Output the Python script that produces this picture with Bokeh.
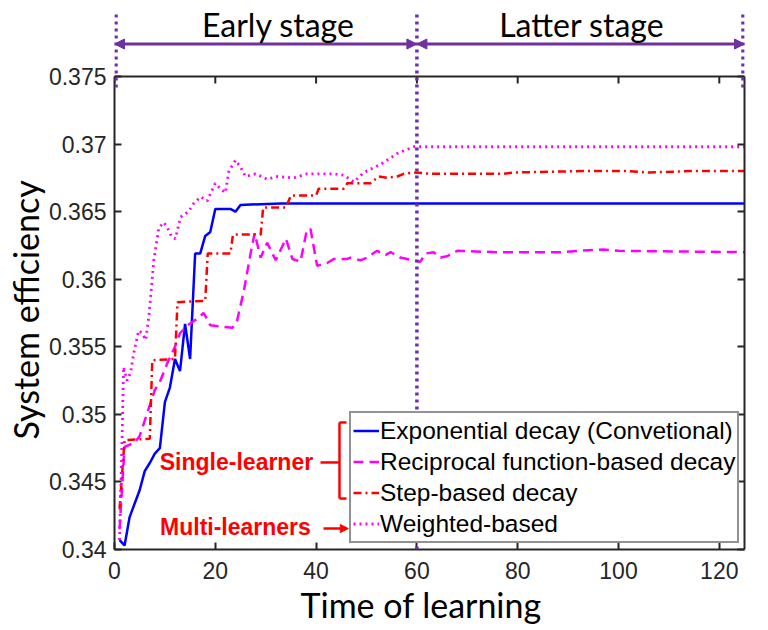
from bokeh.plotting import figure
from bokeh.models import (LinearAxis, FixedTicker, Range1d, Legend, LegendItem, Label,
                          Arrow, NormalHead, Span, Title)
from bokeh.embed import file_html
from bokeh.resources import INLINE

# ---------------- data ----------------
exp_x = [1, 2, 3, 5, 6, 7, 8, 9, 10, 11, 12, 13, 14, 15, 16, 17, 18, 19, 20, 23, 24, 25, 33, 125]
exp_y = [0.3407, 0.3403, 0.3424, 0.3444, 0.3458, 0.3464, 0.3471, 0.3475, 0.3509, 0.3520,
         0.3541, 0.3532, 0.3567, 0.3541, 0.3619, 0.3619, 0.3632, 0.3635, 0.3652, 0.3652,
         0.3650, 0.3655, 0.3656, 0.3656]

rec_x = [1, 2, 4, 5, 6.5, 8, 9, 10.5, 12, 13, 14.5, 16.5, 17.7, 19, 23.4, 24.3, 25.7, 27,
         27.8, 29, 30.3, 32, 34, 35.3, 36.9, 38.2, 38.9, 40.2, 42.2, 43.5, 46.2, 46.8, 48.8,
         50.1, 52.1, 53.8, 54.8, 56.7, 59.1, 60.7, 61.7, 63.3, 64.7, 66, 68, 76, 89, 92, 97,
         100, 125]
rec_y = [0.3415, 0.3476, 0.3479, 0.3484, 0.3501, 0.3518, 0.3524, 0.3538, 0.3550, 0.3560,
         0.3566, 0.3571, 0.3575, 0.3566, 0.3564, 0.3569, 0.3592, 0.3619, 0.3634, 0.3616,
         0.3627, 0.3614, 0.3630, 0.3615, 0.3613, 0.3637, 0.3637, 0.3610, 0.3612, 0.3615,
         0.3615, 0.3616, 0.3614, 0.3616, 0.3621, 0.3618, 0.3620, 0.3616, 0.3614, 0.3613,
         0.3619, 0.3620, 0.3616, 0.3617, 0.3621, 0.3620, 0.3620, 0.3621, 0.3622, 0.3621,
         0.3620]

step_x = [1, 2, 7, 7.5, 12, 12.5, 18, 18.5, 23, 23.5, 29, 29.5, 34, 35, 40, 40.5, 45.5,
          46.2, 50.8, 52.4, 54.1, 56.1, 57.4, 59.4, 62.7, 77.2, 79.2, 93, 101.7, 106, 114.3, 125]
step_y = [0.3430, 0.3481, 0.3482, 0.3540, 0.3541, 0.3583, 0.3584, 0.3619, 0.3619, 0.3633,
          0.3633, 0.3653, 0.3653, 0.3662, 0.3662, 0.3667, 0.3667, 0.3671, 0.3671, 0.3676,
          0.3675, 0.3676, 0.3678, 0.3679, 0.3678, 0.3678, 0.3679, 0.3680, 0.3680, 0.3679,
          0.3680, 0.3680]

wt_x = [1, 1.5, 1.8, 2.5, 3.2, 3.8, 4.8, 5.5, 6.2, 6.8, 7.1, 7.8, 8.8, 9.8, 10.5, 11.4, 12.1,
        13.1, 14.7, 15.7, 17.1, 18.4, 20, 21, 22, 22.7, 24, 25, 26, 28, 30.3, 32.3, 35.6,
        38.2, 43.5, 45.5, 47.5, 49.5, 52.8, 56.1, 59.4, 125]
wt_y = [0.3407, 0.3481, 0.3535, 0.3525, 0.3531, 0.3545, 0.3562, 0.3560, 0.3555, 0.3572,
        0.3584, 0.3614, 0.3638, 0.3642, 0.3638, 0.3631, 0.3630, 0.3646, 0.3650, 0.3656,
        0.3661, 0.3658, 0.3671, 0.3667, 0.3664, 0.3680, 0.3688, 0.3683, 0.3676, 0.3678,
        0.3674, 0.3676, 0.3675, 0.3678, 0.3678, 0.3677, 0.3672, 0.3679, 0.3685, 0.3693,
        0.3698, 0.3698]

x_ticks = [0, 20, 40, 60, 80, 100, 120]
y_ticks = [0.34, 0.345, 0.35, 0.355, 0.36, 0.365, 0.37, 0.375]
y_tick_labels = ["0.34", "0.345", "0.35", "0.355", "0.36", "0.365", "0.37", "0.375"]

series_names = ["Exponential decay (Convetional)", "Reciprocal function-based decay",
                "Step-based decay", "Weighted-based"]
stage_names = ["Early stage", "Latter stage"]
stage_bounds = [0, 60, 125]

AX = "#262626"
PURPLE = "#7030A0"
RED = "#FF0000"

Y0, Y1 = 0.34, 0.375          # value axis extent
FRAME_H = 543                  # frame includes the stage strip above the box
PLOT_H = 473                   # pixel height of the value box
y_per_px = (Y1 - Y0) / PLOT_H
Y_TOP = Y0 + FRAME_H * y_per_px

p = figure(frame_width=630, frame_height=FRAME_H, min_border_left=114, min_border_top=6,
           min_border_right=16, min_border_bottom=76,
           x_range=Range1d(0, 125), y_range=Range1d(Y0, Y_TOP),
           output_backend="svg", toolbar_location=None)
p.xgrid.visible = False
p.ygrid.visible = False
p.outline_line_color = None

for ax in (p.xaxis[0], p.yaxis[0]):
    ax.major_label_text_font = "Liberation Sans"
    ax.major_label_text_font_size = "23px"
    ax.major_label_text_color = AX
    ax.axis_line_color = AX
    ax.axis_line_width = 2
    ax.major_tick_line_color = AX
    ax.major_tick_line_width = 2
    ax.major_tick_in = 7
    ax.major_tick_out = 0
    ax.minor_tick_line_color = None
p.xaxis[0].ticker = FixedTicker(ticks=x_ticks)
p.yaxis[0].ticker = FixedTicker(ticks=y_ticks)
p.yaxis[0].bounds = (Y0, Y1)
p.yaxis[0].major_label_overrides = {t: l for t, l in zip(y_ticks, y_tick_labels)}
p.xaxis[0].major_label_standoff = 12
p.yaxis[0].major_label_standoff = 8

right = LinearAxis(ticker=FixedTicker(ticks=y_ticks), bounds=(Y0, Y1),
                   major_label_overrides={t: "" for t in y_ticks},
                   major_label_text_font_size="1px",
                   axis_line_color=AX, axis_line_width=2, major_tick_line_color=AX,
                   major_tick_line_width=2, major_tick_in=7, major_tick_out=0,
                   minor_tick_line_color=None, major_label_standoff=0)
p.add_layout(right, "right")

# axis titles (as side titles so they can be positioned along the box)
p.add_layout(Title(text="System efficiency", align="left", offset=110, standoff=0,
                   text_font="Lato", text_font_size="34px", text_font_style="normal",
                   text_color="black"), "left")
p.add_layout(Title(text="Time of learning", align="left", offset=186, standoff=0,
                   text_font="Lato", text_font_size="34px", text_font_style="normal",
                   text_color="black"), "below")

# top edge of the box with inward ticks
p.add_layout(Span(location=Y1, dimension="width", line_color=AX, line_width=2))
p.segment(x0=x_ticks, x1=x_ticks, y0=[Y1] * len(x_ticks),
          y1=[Y1 - 7 * y_per_px] * len(x_ticks), line_color=AX, line_width=2)

# ---------------- stage annotations ----------------
y_dot_top = Y1 + 62 * y_per_px
y_arrow = Y1 + 32.5 * y_per_px
y_text = Y1 + 52 * y_per_px
for xb, ybot in zip([0.3, 60, 124.7], [Y1 - 12 * y_per_px, Y0, Y1 - 12 * y_per_px]):
    p.add_layout(Arrow(x_start=xb, y_start=y_dot_top, x_end=xb, y_end=ybot, start=None,
                       end=None, line_color=PURPLE, line_width=3.5, line_dash="3 4"))
for i in range(2):
    p.add_layout(Arrow(x_start=stage_bounds[i], y_start=y_arrow, x_end=stage_bounds[i + 1],
                       y_end=y_arrow, line_color=PURPLE, line_width=3,
                       start=NormalHead(size=10, fill_color=PURPLE, line_color=PURPLE),
                       end=NormalHead(size=10, fill_color=PURPLE, line_color=PURPLE)))
for name, xc in zip(stage_names, [32.5, 92.7]):
    p.add_layout(Label(x=xc, y=y_text, text=name, text_font="Lato", text_font_size="32px",
                       text_align="center", text_baseline="middle", text_color="black"))

# ---------------- series ----------------
r1 = p.line(exp_x, exp_y, line_color="#0000FF", line_width=2.5)
r2 = p.line(rec_x, rec_y, line_color="#FF00FF", line_width=2.5, line_dash="10 6")
r3 = p.line(step_x, step_y, line_color="#FF0000", line_width=2.5, line_dash="8 4 2 4")
r4 = p.line(wt_x, wt_y, line_color="#FF00FF", line_width=2.8, line_dash="2 4")

legend = Legend(items=[LegendItem(label=n, renderers=[r]) for n, r in
                       zip(series_names, [r1, r2, r3, r4])],
                location=(235, 6), label_text_font="Liberation Sans",
                label_text_font_size="24.5px", label_text_color="black",
                glyph_width=26, glyph_height=31, label_height=31, label_standoff=1,
                spacing=0, padding=2, margin=0, border_line_color=AX,
                border_line_width=2, background_fill_alpha=1)
p.add_layout(legend)

# ---------------- red group annotations ----------------
p.add_layout(Label(x=24.2, y=0.34644, text="Single-learner", text_font="Liberation Sans",
                   text_font_size="23px", text_font_style="bold", text_color=RED,
                   text_align="center", text_baseline="middle"))
p.add_layout(Label(x=24.0, y=0.34163, text="Multi-learners", text_font="Liberation Sans",
                   text_font_size="23px", text_font_style="bold", text_color=RED,
                   text_align="center", text_baseline="middle"))
for (xs, ys, xe, ye) in [(44.64, 0.34940, 44.64, 0.34377), (44.64, 0.34940, 46.03, 0.34940),
                         (44.64, 0.34377, 46.03, 0.34377), (40.87, 0.34644, 44.64, 0.34644)]:
    p.add_layout(Arrow(x_start=xs, y_start=ys, x_end=xe, y_end=ye, start=None, end=None,
                       line_color=RED, line_width=2.5))
p.add_layout(Arrow(x_start=41.47, y_start=0.34155, x_end=46.4, y_end=0.34155, start=None,
                   end=NormalHead(size=8, fill_color=RED, line_color=RED),
                   line_color=RED, line_width=2.5))

open("out.html", "w").write(file_html(p, INLINE))
